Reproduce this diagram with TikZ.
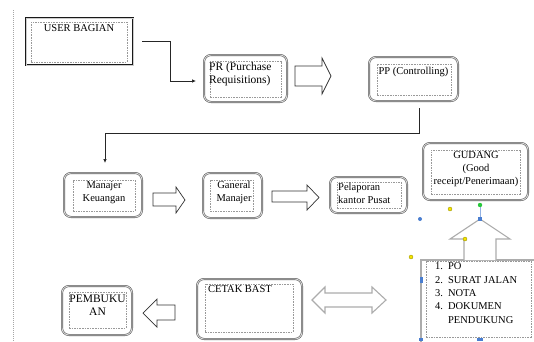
\documentclass[tikz,border=0pt]{standalone}
\usepackage{fontspec}
\setmainfont{Liberation Serif}
\usetikzlibrary{arrows.meta}
\definecolor{hblue}{RGB}{74,126,208}
\definecolor{hyellow}{RGB}{245,228,0}
\definecolor{hgreen}{RGB}{40,200,60}
\begin{document}
\begin{tikzpicture}[x=1pt,y=-1pt,
  outerbox/.style={draw=gray!75!black, double=gray!25, double distance=0.8pt, line width=0.6pt, rounded corners=7pt, inner sep=0pt, outer sep=0pt},
  userbox/.style={draw=black!90, double=gray!40, double distance=0.6pt, line width=0.65pt, inner sep=0pt, outer sep=0pt},
  listbox/.style={draw=gray!65, line width=1.2pt, inner sep=0pt, outer sep=0pt},
  innerbox/.style={draw=gray!80, line width=0.45pt, dash pattern=on 1.6pt off 1pt, inner sep=0pt, outer sep=0pt},
  txt/.style={font=\fontsize{10.5}{13}\selectfont, inner sep=0pt, text=black},
  bigtxt/.style={font=\fontsize{11.5}{13}\selectfont, inner sep=0pt, text=black},
  conn/.style={draw=black!85, line width=0.7pt, -{Latex[length=4pt,width=3.5pt]}},
  blockarrow/.style={draw=black!80, line width=0.7pt, fill=white, line join=miter},
  selarrow/.style={draw=gray!65, line width=1.1pt, fill=white, line join=miter},
  hsq/.style={rectangle, inner sep=0pt, fill=hblue}
]
\useasboundingbox (0,0) rectangle (534,341);

% left dotted margin line
\draw[gray!70, dash pattern=on 0.8pt off 1.2pt] (13,10) -- (13,341);

% USER BAGIAN
\node[userbox, minimum width=107pt, minimum height=47pt] (user) at (79.5,41.5) {};
\node[innerbox, minimum width=96pt, minimum height=40pt] (useri) at (79,42) {};
\node[txt] (usert) at (79,28) {USER BAGIAN};

% PR
\node[outerbox, minimum width=83pt, minimum height=47pt] (pr) at (245.5,78.5) {};
\node[innerbox, minimum width=71pt, minimum height=36pt] (pri) at (245.5,79) {};
\node[bigtxt, anchor=north west, align=left] (prt) at (209,62.5) {PR (Purchase\\Requisitions)};

% PP
\node[outerbox, minimum width=89pt, minimum height=44pt] (pp) at (413.5,79) {};
\node[innerbox, minimum width=74pt, minimum height=31pt] (ppi) at (414,79.5) {};
\node[txt] (ppt) at (413.5,71.5) {PP (Controlling)};

% Manajer Keuangan
\node[outerbox, minimum width=78pt, minimum height=44pt] (mk) at (103,195) {};
\node[innerbox, minimum width=62pt, minimum height=31pt] (mki) at (104,195.5) {};
\node[txt, anchor=north, align=center] (mkt) at (104,181.5) {Manajer\\Keuangan};

% Ganeral Manajer
\node[outerbox, minimum width=59pt, minimum height=45pt] (gm) at (232.5,195.5) {};
\node[innerbox, minimum width=43pt, minimum height=31pt] (gmi) at (231.5,195.5) {};
\node[txt, anchor=north, align=center] (gmt) at (234,181.5) {Ganeral\\Manajer};

% Pelaporan kantor Pusat
\node[outerbox, minimum width=77pt, minimum height=36pt] (pel) at (368.5,195) {};
\node[innerbox, minimum width=64pt, minimum height=26pt] (peli) at (369,195) {};
\node[txt, anchor=north west, align=left] (pelt) at (338,183) {Pelaporan\\kantor Pusat};

% GUDANG
\node[outerbox, minimum width=105pt, minimum height=57pt] (gud) at (475.5,171.5) {};
\node[innerbox, minimum width=89pt, minimum height=44pt] (gudi) at (475.5,172) {};
\node[txt, anchor=north, align=center] (gudt) at (476,151.5) {GUDANG\\(Good\\receipt/Penerimaan)};

% list box
\node[listbox, minimum width=124pt, minimum height=90pt] (list) at (483,305) {};
\node[innerbox, minimum width=105pt, minimum height=76pt] (listi) at (478.5,299) {};
\node[anchor=north west, inner sep=0pt, text=black, font=\fontsize{10.5}{13.3}\selectfont] (listt) at (435,260.3)
  {\begin{tabular}{@{}r@{\hspace{5pt}}l@{}}1.&PO\\2.&SURAT JALAN\\3.&NOTA\\4.&DOKUMEN\\&PENDUKUNG\end{tabular}};

% CETAK BAST
\node[outerbox, minimum width=105pt, minimum height=60pt] (cetak) at (249.5,309) {};
\node[innerbox, minimum width=88pt, minimum height=48pt] (cetaki) at (249,308) {};
\node[txt, anchor=west] (cetakt) at (208,289) {CETAK BAST};

% PEMBUKUAN
\node[outerbox, minimum width=70pt, minimum height=49pt] (pemb) at (97,310.5) {};
\node[innerbox, minimum width=57pt, minimum height=36pt] (pembi) at (97.5,310) {};
\node[bigtxt, anchor=north, align=center] (pembt) at (97.5,294.5) {PEMBUKU\\AN};

% line connectors
\draw[conn] ([xshift=9pt]user.east) -- ++(28,0) |- ([xshift=-8pt,yshift=-2.5pt]pr.west);
\draw[conn] ([xshift=5.5pt,yshift=-7pt]pp.south) -- ++(0,25) -| ([xshift=2pt,yshift=10pt]mk.north);

% block arrows
\draw[blockarrow] (295,66) -- (322,66) -- (322,58) -- (331,76) -- (322,94) -- (322,86) -- (295,86) -- cycle;
\draw[blockarrow] (153,193) -- (176,193) -- (176,187) -- (185,200) -- (176,213) -- (176,206) -- (153,206) -- cycle;
\draw[blockarrow] (272,191) -- (307,191) -- (307,185) -- (319,197.5) -- (307,210) -- (307,202) -- (272,202) -- cycle;
\draw[blockarrow] (175,305) -- (157,305) -- (157,299) -- (143,313) -- (157,327) -- (157,320) -- (175,320) -- cycle;
\draw[selarrow] (312,300) -- (325,287) -- (325,293) -- (372,293) -- (372,287) -- (386,300) -- (372,313) -- (372,307) -- (325,307) -- (325,313) -- cycle;
\draw[selarrow] (464,260) -- (464,239) -- (450,239) -- (480,219) -- (510,239) -- (496,239) -- (496,260);

% selection handles
\draw[hblue!60, line width=0.5pt] (480,205) -- (480,219);
\fill[hgreen] (480,205) circle (2.2pt);
\node[hsq, minimum width=4.5pt, minimum height=4.5pt] (h1) at (480,219) {};
\fill[hblue] (420,219) circle (2pt);
\filldraw[fill=hyellow, draw=olive, line width=0.3pt] (450,209) circle (2pt);
\filldraw[fill=hyellow, draw=olive, line width=0.3pt] (465,239) circle (2pt);
\filldraw[fill=hyellow, draw=olive, line width=0.3pt] (411,257) circle (2pt);
\node[hsq, minimum width=3pt, minimum height=6pt] (h2) at (421,280) {};
\node[hsq, minimum width=6pt, minimum height=3pt] (h3) at (480,339.5) {};
\node[hsq, minimum width=4pt, minimum height=3pt] (h4) at (421,339.5) {};
\end{tikzpicture}
\end{document}
